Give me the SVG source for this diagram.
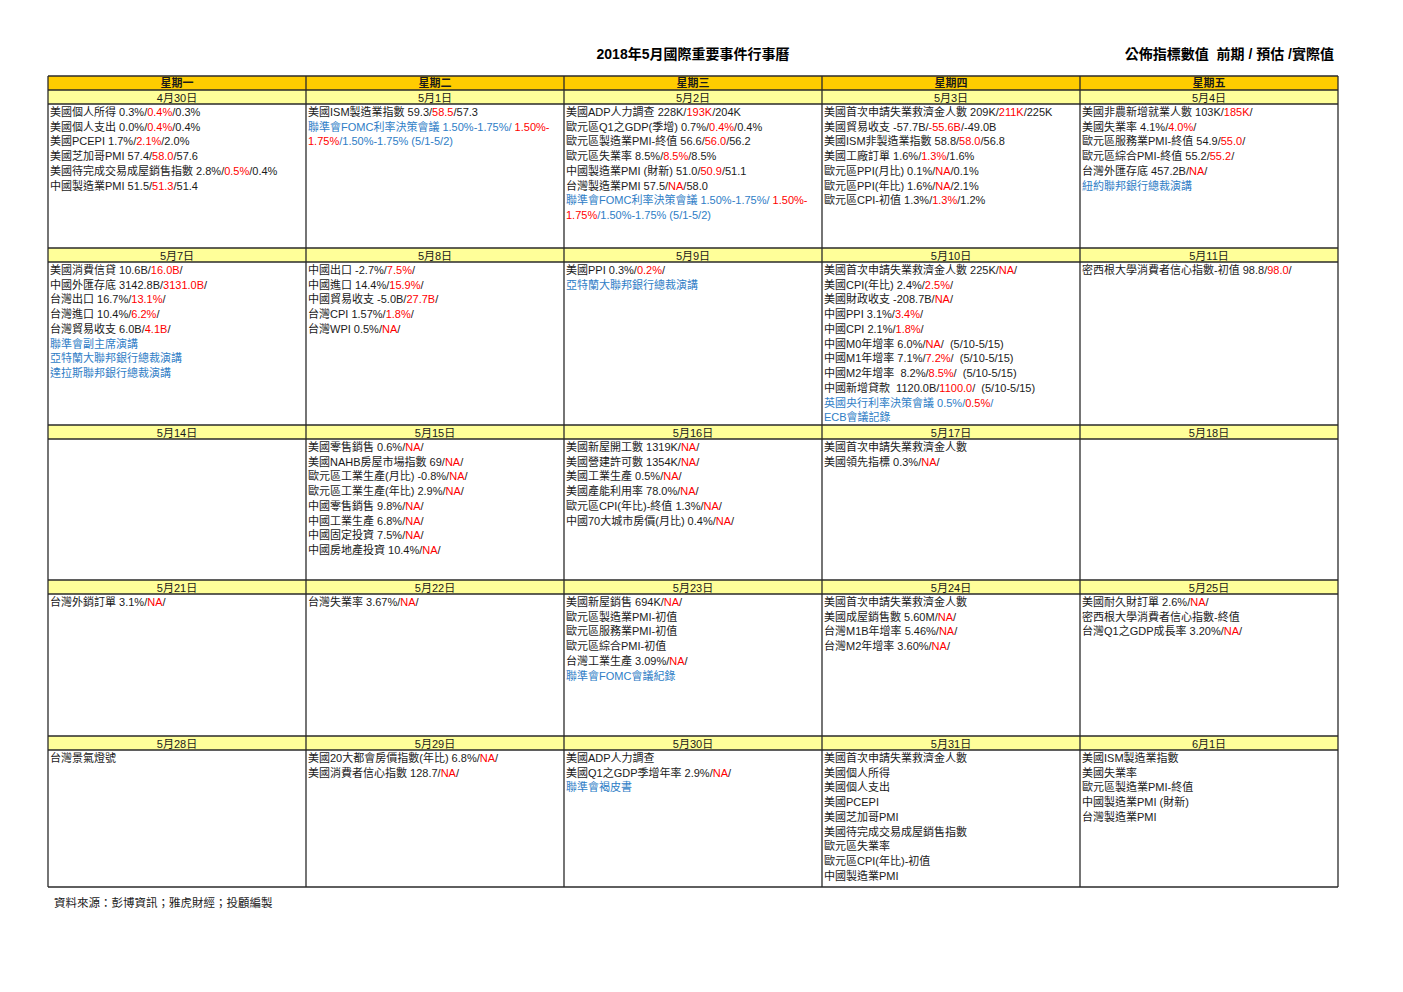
<svg xmlns="http://www.w3.org/2000/svg" width="1403" height="992" viewBox="0 0 1403 992">
<style>
text{font-family:"Liberation Sans","Noto Sans CJK TC",sans-serif;font-size:11px;fill:#1a1a1a;white-space:pre}
.r{fill:#ff0000}
.b{fill:#2e7dc6}
.h{font-weight:bold;text-anchor:middle}
.d{text-anchor:middle}
.title{font-size:14px;font-weight:bold;fill:#000}
.grid line{stroke:#2a2a2a;stroke-width:1.3}
</style>
<rect x="0" y="0" width="1403" height="992" fill="#ffffff"/>
<text class="title" x="693" y="59" text-anchor="middle">2018年5月國際重要事件行事曆</text>
<text class="title" x="1334" y="59" text-anchor="end">公佈指標數值  前期 / 預估 /實際值</text>

<g id="backgrounds">
<rect x="48" y="76" width="1290" height="14" fill="#ffcc00"/>
<rect x="48" y="90" width="1290" height="14" fill="#ffff99"/>
<rect x="48" y="248" width="1290" height="14" fill="#ffff99"/>
<rect x="48" y="425" width="1290" height="14" fill="#ffff99"/>
<rect x="48" y="580" width="1290" height="14" fill="#ffff99"/>
<rect x="48" y="736" width="1290" height="14" fill="#ffff99"/>
</g>

<g id="header">
<text class="h" x="177" y="87">星期一</text>
<text class="h" x="435" y="87">星期二</text>
<text class="h" x="693" y="87">星期三</text>
<text class="h" x="951" y="87">星期四</text>
<text class="h" x="1209" y="87">星期五</text>
</g>

<!-- Row 1 -->
<g id="d0430" transform="translate(48,90)">
<text class="d" x="129" y="11.5">4月30日</text>
<text x="2" y="26">美國個人所得 0.3%/<tspan class="r">0.4%</tspan>/0.3%</text>
<text x="2" y="40.73">美國個人支出 0.0%/<tspan class="r">0.4%</tspan>/0.4%</text>
<text x="2" y="55.46">美國PCEPI 1.7%/<tspan class="r">2.1%</tspan>/2.0%</text>
<text x="2" y="70.19">美國芝加哥PMI 57.4/<tspan class="r">58.0</tspan>/57.6</text>
<text x="2" y="84.92">美國待完成交易成屋銷售指數 2.8%/<tspan class="r">0.5%</tspan>/0.4%</text>
<text x="2" y="99.65">中國製造業PMI 51.5/<tspan class="r">51.3</tspan>/51.4</text>
</g>
<g id="d0501" transform="translate(306,90)">
<text class="d" x="129" y="11.5">5月1日</text>
<text x="2" y="26">美國ISM製造業指數 59.3/<tspan class="r">58.5</tspan>/57.3</text>
<text x="2" y="40.73"><tspan class="b">聯準會FOMC利率決策會議 1.50%-1.75%/ </tspan><tspan class="r">1.50%-</tspan></text>
<text x="2" y="55.46"><tspan class="r">1.75%</tspan><tspan class="b">/1.50%-1.75% (5/1-5/2)</tspan></text>
</g>
<g id="d0502" transform="translate(564,90)">
<text class="d" x="129" y="11.5">5月2日</text>
<text x="2" y="26">美國ADP人力調查 228K/<tspan class="r">193K</tspan>/204K</text>
<text x="2" y="40.73">歐元區Q1之GDP(季增) 0.7%/<tspan class="r">0.4%</tspan>/0.4%</text>
<text x="2" y="55.46">歐元區製造業PMI-終值 56.6/<tspan class="r">56.0</tspan>/56.2</text>
<text x="2" y="70.19">歐元區失業率 8.5%/<tspan class="r">8.5%</tspan>/8.5%</text>
<text x="2" y="84.92">中國製造業PMI (財新) 51.0/<tspan class="r">50.9</tspan>/51.1</text>
<text x="2" y="99.65">台灣製造業PMI 57.5/<tspan class="r">NA</tspan>/58.0</text>
<text x="2" y="114.38"><tspan class="b">聯準會FOMC利率決策會議 1.50%-1.75%/ </tspan><tspan class="r">1.50%-</tspan></text>
<text x="2" y="129.11"><tspan class="r">1.75%</tspan><tspan class="b">/1.50%-1.75% (5/1-5/2)</tspan></text>
</g>
<g id="d0503" transform="translate(822,90)">
<text class="d" x="129" y="11.5">5月3日</text>
<text x="2" y="26">美國首次申請失業救濟金人數 209K/<tspan class="r">211K</tspan>/225K</text>
<text x="2" y="40.73">美國貿易收支 -57.7B/<tspan class="r">-55.6B</tspan>/-49.0B</text>
<text x="2" y="55.46">美國ISM非製造業指數 58.8/<tspan class="r">58.0</tspan>/56.8</text>
<text x="2" y="70.19">美國工廠訂單 1.6%/<tspan class="r">1.3%</tspan>/1.6%</text>
<text x="2" y="84.92">歐元區PPI(月比) 0.1%/<tspan class="r">NA</tspan>/0.1%</text>
<text x="2" y="99.65">歐元區PPI(年比) 1.6%/<tspan class="r">NA</tspan>/2.1%</text>
<text x="2" y="114.38">歐元區CPI-初值 1.3%/<tspan class="r">1.3%</tspan>/1.2%</text>
</g>
<g id="d0504" transform="translate(1080,90)">
<text class="d" x="129" y="11.5">5月4日</text>
<text x="2" y="26">美國非農新增就業人數 103K/<tspan class="r">185K</tspan>/</text>
<text x="2" y="40.73">美國失業率 4.1%/<tspan class="r">4.0%</tspan>/</text>
<text x="2" y="55.46">歐元區服務業PMI-終值 54.9/<tspan class="r">55.0</tspan>/</text>
<text x="2" y="70.19">歐元區綜合PMI-終值 55.2/<tspan class="r">55.2</tspan>/</text>
<text x="2" y="84.92">台灣外匯存底 457.2B/<tspan class="r">NA</tspan>/</text>
<text x="2" y="99.65" class="b">紐約聯邦銀行總裁演講</text>
</g>

<!-- Row 2 -->
<g id="d0507" transform="translate(48,248)">
<text class="d" x="129" y="11.5">5月7日</text>
<text x="2" y="26">美國消費信貸 10.6B/<tspan class="r">16.0B</tspan>/</text>
<text x="2" y="40.73">中國外匯存底 3142.8B/<tspan class="r">3131.0B</tspan>/</text>
<text x="2" y="55.46">台灣出口 16.7%/<tspan class="r">13.1%</tspan>/</text>
<text x="2" y="70.19">台灣進口 10.4%/<tspan class="r">6.2%</tspan>/</text>
<text x="2" y="84.92">台灣貿易收支 6.0B/<tspan class="r">4.1B</tspan>/</text>
<text x="2" y="99.65" class="b">聯準會副主席演講</text>
<text x="2" y="114.38" class="b">亞特蘭大聯邦銀行總裁演講</text>
<text x="2" y="129.11" class="b">達拉斯聯邦銀行總裁演講</text>
</g>
<g id="d0508" transform="translate(306,248)">
<text class="d" x="129" y="11.5">5月8日</text>
<text x="2" y="26">中國出口 -2.7%/<tspan class="r">7.5%</tspan>/</text>
<text x="2" y="40.73">中國進口 14.4%/<tspan class="r">15.9%</tspan>/</text>
<text x="2" y="55.46">中國貿易收支 -5.0B/<tspan class="r">27.7B</tspan>/</text>
<text x="2" y="70.19">台灣CPI 1.57%/<tspan class="r">1.8%</tspan>/</text>
<text x="2" y="84.92">台灣WPI 0.5%/<tspan class="r">NA</tspan>/</text>
</g>
<g id="d0509" transform="translate(564,248)">
<text class="d" x="129" y="11.5">5月9日</text>
<text x="2" y="26">美國PPI 0.3%/<tspan class="r">0.2%</tspan>/</text>
<text x="2" y="40.73" class="b">亞特蘭大聯邦銀行總裁演講</text>
</g>
<g id="d0510" transform="translate(822,248)">
<text class="d" x="129" y="11.5">5月10日</text>
<text x="2" y="26">美國首次申請失業救濟金人數 225K/<tspan class="r">NA</tspan>/</text>
<text x="2" y="40.73">美國CPI(年比) 2.4%/<tspan class="r">2.5%</tspan>/</text>
<text x="2" y="55.46">美國財政收支 -208.7B/<tspan class="r">NA</tspan>/</text>
<text x="2" y="70.19">中國PPI 3.1%/<tspan class="r">3.4%</tspan>/</text>
<text x="2" y="84.92">中國CPI 2.1%/<tspan class="r">1.8%</tspan>/</text>
<text x="2" y="99.65">中國M0年增率 6.0%/<tspan class="r">NA</tspan>/  (5/10-5/15)</text>
<text x="2" y="114.38">中國M1年增率 7.1%/<tspan class="r">7.2%</tspan>/  (5/10-5/15)</text>
<text x="2" y="129.11">中國M2年增率  8.2%/<tspan class="r">8.5%</tspan>/  (5/10-5/15)</text>
<text x="2" y="143.84">中國新增貸款  1120.0B/<tspan class="r">1100.0</tspan>/  (5/10-5/15)</text>
<text x="2" y="158.57"><tspan class="b">英國央行利率決策會議 0.5%/</tspan><tspan class="r">0.5%</tspan><tspan class="b">/</tspan></text>
<text x="2" y="173.3" class="b">ECB會議記錄</text>
</g>
<g id="d0511" transform="translate(1080,248)">
<text class="d" x="129" y="11.5">5月11日</text>
<text x="2" y="26">密西根大學消費者信心指數-初值 98.8/<tspan class="r">98.0</tspan>/</text>
</g>

<!-- Row 3 -->
<g id="d0514" transform="translate(48,425)">
<text class="d" x="129" y="11.5">5月14日</text>
</g>
<g id="d0515" transform="translate(306,425)">
<text class="d" x="129" y="11.5">5月15日</text>
<text x="2" y="26">美國零售銷售 0.6%/<tspan class="r">NA</tspan>/</text>
<text x="2" y="40.73">美國NAHB房屋市場指數 69/<tspan class="r">NA</tspan>/</text>
<text x="2" y="55.46">歐元區工業生產(月比) -0.8%/<tspan class="r">NA</tspan>/</text>
<text x="2" y="70.19">歐元區工業生產(年比) 2.9%/<tspan class="r">NA</tspan>/</text>
<text x="2" y="84.92">中國零售銷售 9.8%/<tspan class="r">NA</tspan>/</text>
<text x="2" y="99.65">中國工業生產 6.8%/<tspan class="r">NA</tspan>/</text>
<text x="2" y="114.38">中國固定投資 7.5%/<tspan class="r">NA</tspan>/</text>
<text x="2" y="129.11">中國房地產投資 10.4%/<tspan class="r">NA</tspan>/</text>
</g>
<g id="d0516" transform="translate(564,425)">
<text class="d" x="129" y="11.5">5月16日</text>
<text x="2" y="26">美國新屋開工數 1319K/<tspan class="r">NA</tspan>/</text>
<text x="2" y="40.73">美國營建許可數 1354K/<tspan class="r">NA</tspan>/</text>
<text x="2" y="55.46">美國工業生產 0.5%/<tspan class="r">NA</tspan>/</text>
<text x="2" y="70.19">美國產能利用率 78.0%/<tspan class="r">NA</tspan>/</text>
<text x="2" y="84.92">歐元區CPI(年比)-終值 1.3%/<tspan class="r">NA</tspan>/</text>
<text x="2" y="99.65">中國70大城市房價(月比) 0.4%/<tspan class="r">NA</tspan>/</text>
</g>
<g id="d0517" transform="translate(822,425)">
<text class="d" x="129" y="11.5">5月17日</text>
<text x="2" y="26">美國首次申請失業救濟金人數</text>
<text x="2" y="40.73">美國領先指標 0.3%/<tspan class="r">NA</tspan>/</text>
</g>
<g id="d0518" transform="translate(1080,425)">
<text class="d" x="129" y="11.5">5月18日</text>
</g>

<!-- Row 4 -->
<g id="d0521" transform="translate(48,580)">
<text class="d" x="129" y="11.5">5月21日</text>
<text x="2" y="26">台灣外銷訂單 3.1%/<tspan class="r">NA</tspan>/</text>
</g>
<g id="d0522" transform="translate(306,580)">
<text class="d" x="129" y="11.5">5月22日</text>
<text x="2" y="26">台灣失業率 3.67%/<tspan class="r">NA</tspan>/</text>
</g>
<g id="d0523" transform="translate(564,580)">
<text class="d" x="129" y="11.5">5月23日</text>
<text x="2" y="26">美國新屋銷售 694K/<tspan class="r">NA</tspan>/</text>
<text x="2" y="40.73">歐元區製造業PMI-初值</text>
<text x="2" y="55.46">歐元區服務業PMI-初值</text>
<text x="2" y="70.19">歐元區綜合PMI-初值</text>
<text x="2" y="84.92">台灣工業生產 3.09%/<tspan class="r">NA</tspan>/</text>
<text x="2" y="99.65" class="b">聯準會FOMC會議紀錄</text>
</g>
<g id="d0524" transform="translate(822,580)">
<text class="d" x="129" y="11.5">5月24日</text>
<text x="2" y="26">美國首次申請失業救濟金人數</text>
<text x="2" y="40.73">美國成屋銷售數 5.60M/<tspan class="r">NA</tspan>/</text>
<text x="2" y="55.46">台灣M1B年增率 5.46%/<tspan class="r">NA</tspan>/</text>
<text x="2" y="70.19">台灣M2年增率 3.60%/<tspan class="r">NA</tspan>/</text>
</g>
<g id="d0525" transform="translate(1080,580)">
<text class="d" x="129" y="11.5">5月25日</text>
<text x="2" y="26">美國耐久財訂單 2.6%/<tspan class="r">NA</tspan>/</text>
<text x="2" y="40.73">密西根大學消費者信心指數-終值</text>
<text x="2" y="55.46">台灣Q1之GDP成長率 3.20%/<tspan class="r">NA</tspan>/</text>
</g>

<!-- Row 5 -->
<g id="d0528" transform="translate(48,736)">
<text class="d" x="129" y="11.5">5月28日</text>
<text x="2" y="26">台灣景氣燈號</text>
</g>
<g id="d0529" transform="translate(306,736)">
<text class="d" x="129" y="11.5">5月29日</text>
<text x="2" y="26">美國20大都會房價指數(年比) 6.8%/<tspan class="r">NA</tspan>/</text>
<text x="2" y="40.73">美國消費者信心指數 128.7/<tspan class="r">NA</tspan>/</text>
</g>
<g id="d0530" transform="translate(564,736)">
<text class="d" x="129" y="11.5">5月30日</text>
<text x="2" y="26">美國ADP人力調查</text>
<text x="2" y="40.73">美國Q1之GDP季增年率 2.9%/<tspan class="r">NA</tspan>/</text>
<text x="2" y="55.46" class="b">聯準會褐皮書</text>
</g>
<g id="d0531" transform="translate(822,736)">
<text class="d" x="129" y="11.5">5月31日</text>
<text x="2" y="26">美國首次申請失業救濟金人數</text>
<text x="2" y="40.73">美國個人所得</text>
<text x="2" y="55.46">美國個人支出</text>
<text x="2" y="70.19">美國PCEPI</text>
<text x="2" y="84.92">美國芝加哥PMI</text>
<text x="2" y="99.65">美國待完成交易成屋銷售指數</text>
<text x="2" y="114.38">歐元區失業率</text>
<text x="2" y="129.11">歐元區CPI(年比)-初值</text>
<text x="2" y="143.84">中國製造業PMI</text>
</g>
<g id="d0601" transform="translate(1080,736)">
<text class="d" x="129" y="11.5">6月1日</text>
<text x="2" y="26">美國ISM製造業指數</text>
<text x="2" y="40.73">美國失業率</text>
<text x="2" y="55.46">歐元區製造業PMI-終值</text>
<text x="2" y="70.19">中國製造業PMI (財新)</text>
<text x="2" y="84.92">台灣製造業PMI</text>
</g>

<g id="grid" class="grid">
<line x1="48" y1="76" x2="1338" y2="76"/>
<line x1="48" y1="90" x2="1338" y2="90"/>
<line x1="48" y1="104" x2="1338" y2="104"/>
<line x1="48" y1="248" x2="1338" y2="248"/>
<line x1="48" y1="262" x2="1338" y2="262"/>
<line x1="48" y1="425" x2="1338" y2="425"/>
<line x1="48" y1="439" x2="1338" y2="439"/>
<line x1="48" y1="580" x2="1338" y2="580"/>
<line x1="48" y1="594" x2="1338" y2="594"/>
<line x1="48" y1="736" x2="1338" y2="736"/>
<line x1="48" y1="750" x2="1338" y2="750"/>
<line x1="48" y1="887" x2="1338" y2="887"/>
<line x1="48" y1="76" x2="48" y2="887"/>
<line x1="306" y1="76" x2="306" y2="887"/>
<line x1="564" y1="76" x2="564" y2="887"/>
<line x1="822" y1="76" x2="822" y2="887"/>
<line x1="1080" y1="76" x2="1080" y2="887"/>
<line x1="1338" y1="76" x2="1338" y2="887"/>
</g>

<text x="54" y="907" style="font-size:11.5px">資料來源：彭博資訊；雅虎財經；投顧編製</text>
</svg>
